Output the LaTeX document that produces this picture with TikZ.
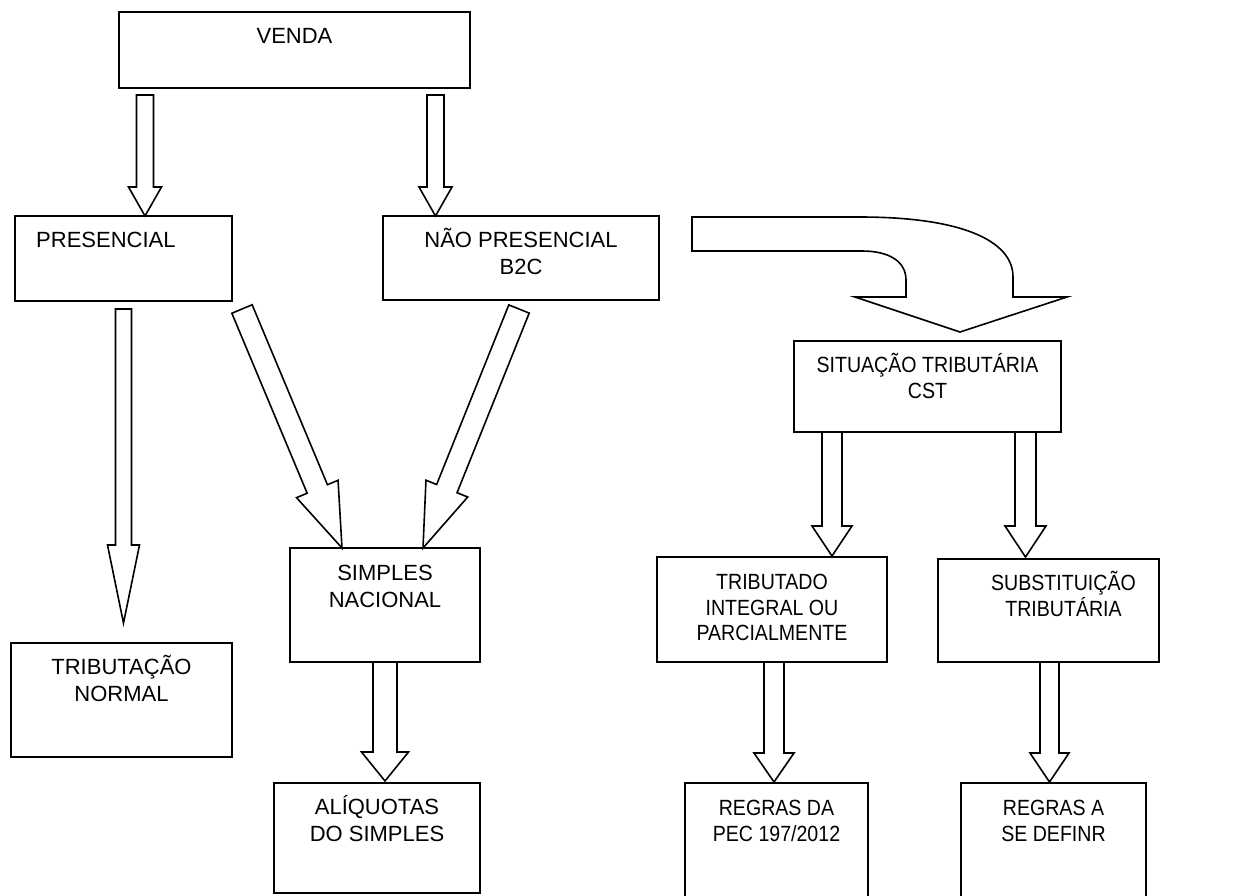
\documentclass[tikz,border=0pt]{standalone}
\usepackage{fontspec}
\setmainfont{Liberation Sans}
\newfontfamily\narrowfont[FakeStretch=0.89]{Liberation Sans}
\usetikzlibrary{calc,positioning}

% hollow block arrow: tail, tip, shaft half width, head half width, head length
\newcommand{\fatarrow}[5]{%
  \coordinate (hb) at ($(#2)!#5pt!(#1)$);
  \draw[fat] ($(#1)!#3pt!90:(#2)$) -- ($(hb)!#3pt!90:(#2)$) -- ($(hb)!#4pt!90:(#2)$)
    -- (#2) -- ($(hb)!#4pt!-90:(#2)$) -- ($(hb)!#3pt!-90:(#2)$) -- ($(#1)!#3pt!-90:(#2)$) -- cycle;
}

\begin{document}
\begin{tikzpicture}[x=1pt, y=-1pt,
    box/.style={draw, line width=1.6pt, inner sep=0pt, outer sep=0pt},
    txt/.style={inner sep=0pt, align=center, text height=16pt, font=\fontsize{22pt}{26.5pt}\selectfont},
    txtr/.style={txt, font=\narrowfont\fontsize{22pt}{25.5pt}\selectfont},
    fat/.style={line width=1.6pt, line join=miter, fill=white}]
  \useasboundingbox (0,0) rectangle (1235,895);
  \clip (0,0) rectangle (1235,895);

  % boxes
  \node[box, minimum width=351pt, minimum height=76pt] (venda) at (294.5,50) {};
  \node[box, minimum width=217pt, minimum height=85pt] (presencial) at (123.5,258.5) {};
  \node[box, minimum width=276pt, minimum height=84pt] (naopres) at (521,258) {};
  \node[box, minimum width=267pt, minimum height=91pt] (situacao) at (927.5,386.5) {};
  \node[box, minimum width=221pt, minimum height=114pt] (tribnormal) at (121.5,700) {};
  \node[box, minimum width=190pt, minimum height=114pt] (simples) at (385,605) {};
  \node[box, minimum width=230pt, minimum height=105pt] (tributado) at (772,609.5) {};
  \node[box, minimum width=221pt, minimum height=103pt] (subst) at (1048.5,610.5) {};
  \node[box, minimum width=206pt, minimum height=110pt] (aliquotas) at (377,838) {};
  \node[box, minimum width=183pt, minimum height=130pt] (regraspec) at (776.5,848) {};
  \node[box, minimum width=185pt, minimum height=130pt] (regrasdef) at (1053.5,848) {};

  % texts
  \node[txt, below=15.5pt of venda.north] (venda-t) {VENDA};
  \node[txt, anchor=north west] (presencial-t) at ($(presencial.north west)+(21,15.5)$) {PRESENCIAL};
  \node[txt, text height=42.5pt, below=15.5pt of naopres.north] (naopres-t) {NÃO PRESENCIAL\\B2C};
  \node[txtr, text height=41.5pt, below=15.5pt of situacao.north] (situacao-t) {SITUAÇÃO TRIBUTÁRIA\\CST};
  \node[txt, text height=42.5pt, below=15.5pt of tribnormal.north] (tribnormal-t) {TRIBUTAÇÃO\\NORMAL};
  \node[txt, text height=42.5pt, below=16.5pt of simples.north] (simples-t) {SIMPLES\\NACIONAL};
  \node[txtr, text height=67pt, below=16.5pt of tributado.north] (tributado-t) {TRIBUTADO\\INTEGRAL OU\\PARCIALMENTE};
  \node[txtr, text height=41.5pt, below=15.5pt of subst.north, xshift=15pt] (subst-t) {SUBSTITUIÇÃO\\TRIBUTÁRIA};
  \node[txt, text height=42.5pt, below=15.5pt of aliquotas.north] (aliquotas-t) {ALÍQUOTAS\\DO SIMPLES};
  \node[txtr, text height=41.5pt, below=16.5pt of regraspec.north] (regraspec-t) {REGRAS DA\\PEC 197/2012};
  \node[txtr, text height=41.5pt, below=16.5pt of regrasdef.north] (regrasdef-t) {REGRAS A\\SE DEFINR};

  % arrow ends
  \coordinate (a1) at ($(venda.south west)+(26,7)$);
  \coordinate (b1) at ($(presencial.north west)+(130,0)$);
  \coordinate (a2) at ($(venda.south east)+(-34.5,7)$);
  \coordinate (b2) at ($(naopres.north west)+(52.5,0)$);
  \coordinate (a3) at ($(presencial.south)+(0,8)$);
  \coordinate (b3) at ($(tribnormal.north)+(2,-20)$);
  \coordinate (a4) at ($(presencial.south east)+(10,8)$);
  \coordinate (b4) at ($(simples.north west)+(52,0)$);
  \coordinate (a5) at ($(naopres.south)+(-2,9)$);
  \coordinate (b5) at ($(simples.north east)+(-57,0)$);
  \coordinate (a6) at ($(situacao.south west)+(38,0)$);
  \coordinate (b6) at ($(tributado.north)+(60,-1)$);
  \coordinate (a7) at ($(situacao.south east)+(-35.5,0)$);
  \coordinate (b7) at ($(subst.north)+(-23,-2)$);
  \coordinate (a8) at (simples.south);
  \coordinate (b8) at ($(aliquotas.north)+(8,-2)$);
  \coordinate (a9) at ($(tributado.south)+(2,0)$);
  \coordinate (b9) at ($(regraspec.north)+(-2.5,-1)$);
  \coordinate (a10) at ($(subst.south)+(1,0)$);
  \coordinate (b10) at ($(regrasdef.north)+(-4,-1)$);

  % block arrows
  \fatarrow{a1}{b1}{8.5}{16.5}{29}
  \fatarrow{a2}{b2}{8.5}{16.5}{29}
  \fatarrow{a3}{b3}{8}{16}{78}
  \fatarrow{a4}{b4}{11}{22.5}{64}
  \fatarrow{a5}{b5}{11}{22.5}{64}
  \fatarrow{a6}{b6}{10}{20}{30}
  \fatarrow{a7}{b7}{10.5}{20.5}{31}
  \fatarrow{a8}{b8}{12}{23.5}{29}
  \fatarrow{a9}{b9}{10}{20}{29}
  \fatarrow{a10}{b10}{9.5}{19.5}{29}

  % curved arrow to situacao
  \coordinate (c0) at ($(naopres.north east)+(33,1)$);
  \coordinate (c1) at ($(situacao.north)+(32.5,-9)$);
  \draw[fat] (c0) -- (860,217) .. controls (960,217) and (1013,240) .. (1013,277)
    -- (1013,297) -- (1067,297) -- (c1) -- (855,297) -- (906,297) -- (906,280)
    .. controls (906,262) and (890,251) .. (862,251) -- (692,251) -- cycle;
\end{tikzpicture}
\end{document}
